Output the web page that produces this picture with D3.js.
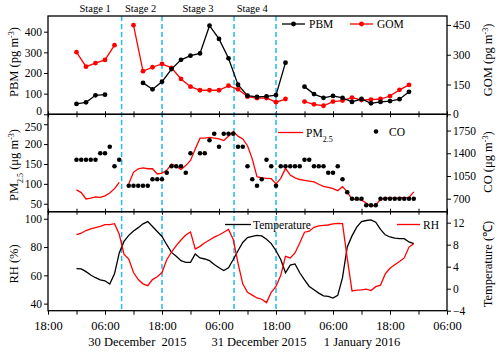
<!DOCTYPE html>
<html><head><meta charset="utf-8">
<script src="https://cdn.jsdelivr.net/npm/d3@7"></script>
<style>
body{margin:0;background:#fff}
svg{display:block}
text{font-family:"Liberation Serif","Times New Roman",serif;fill:#000}
</style>
</head><body><svg id="c" width="500" height="353"></svg>
<script>
// ---------------- data ----------------
const hourlyStart = "2015-12-30T00:00:00Z";   // hourly samples start (PM2.5, CO, RH, T)
const pm25 = [85,78,62,64,67,66,70,77,88,104,null,
  100,129,138,140,138,138,125,127,134,150,144,136,146,159,188,215,215,217,215,213,209,220,232,220,213,196,163,118,115,114,113,100,114,139,122,115,111,109,107,105,99,94,91,88,83,93,80,61,61,59,52,43,47,61,63,66,63,66,65,66,80];
const co = [1300,1300,1300,1300,1300,1400,1400,1500,1200,1300,null,
  900,900,900,900,900,1000,1000,1000,1100,1200,1200,1200,1100,1400,null,1400,1400,1600,1700,1500,1700,1700,1700,1500,1500,1200,1000,900,1000,1300,1200,900,
  1200,1200,1200,1200,1200,1300,1300,1200,1200,1200,1100,1100,1200,1000,800,700,700,700,600,600,600,700,700,700,700,700,700,700,700];
const rh = [88.8,89.8,91.7,92.8,93.8,94.6,95.9,95.9,96.5,89,75,71.5,62,57,54,52.7,57,59,62,71,76.5,81,85,88.5,90.7,78.6,80.5,83,85,87,88.5,90.5,92.5,85.3,68.7,54,48,46,44,43.1,40.7,48,52.1,60,73.4,72.3,75.8,82.9,90.5,91.2,94,95,95.3,95.6,96.4,96.8,96.5,72,49,49.5,49.7,50.2,49.2,52,53,61,65,67.5,69.8,72.3,80,82.4];
const temperature = [3.64,3.6,3.1,2.5,2.0,1.6,1.44,0.85,2.7,6.5,8.6,9.7,10.5,11.1,11.8,12.2,11.3,10.4,9.5,8.0,6.6,5.9,5.1,4.8,4.8,6.3,5.6,5.4,5.1,4.4,3.8,3.3,3.8,5.3,6.9,8.4,9.3,9.5,9.7,9.6,9.0,8.2,6.9,5.3,2.9,4.3,4.5,2.9,1.6,0.4,-0.2,-0.8,-1.3,-1.4,-1.7,-1.2,2.0,7.6,9.6,11.2,12.2,12.4,12.5,12.1,10.8,9.8,9.4,9.2,9.1,9.1,8.5,8.2];
const twoHourlyStart = "2015-12-30T00:00:00Z"; // PBM / GOM every 2 h
const pbm = [50,58,92,95,null,null,null,152,121,158,219,264,284,295,429,365,271,143,90,84,87,93,250,null,134,98,80,89,80,60,74,53,60,64,73,109];
const gom = [313,240,258,274,348,null,449,217,237,254,234,178,139,121,121,121,144,126,89,81,82,61,77,null,64,50,43,64,69,84,72,74,77,92,123,148];
const stageBounds = ["2015-12-30T09:30:00Z","2015-12-30T18:00:00Z","2015-12-31T09:10:00Z","2015-12-31T18:00:00Z"];
const stageNames = ["Stage 1","Stage 2","Stage 3","Stage 4"];
const stageCenters = ["2015-12-30T03:55:00Z","2015-12-30T13:30:00Z","2015-12-31T01:35:00Z","2015-12-31T13:00:00Z"];
const dateLabels = ["30 December  2015","31 December 2015","1 January 2016"];
const dateLabelTimes = ["2015-12-30T12:50:00Z","2015-12-31T14:25:00Z","2016-01-01T12:06:00Z"];
const timeDomain = ["2015-12-29T18:00:00Z","2016-01-02T06:00:00Z"];
const pbmTicks = [0,100,200,300,400], gomTicks = [0,150,300,450];
const pmTicks = [50,100,150,200,250], coTicks = [700,1050,1400,1750];
const rhTicks = [40,60,80,100], tTicks = [-4,0,4,8,12];

// ---------------- layout ----------------
const RED = "#ff0000", BLUE = "#22bbee";
const L = 48, R = 447;
const P1 = [16, 114.3], P2 = [114.3, 211.7], P3 = [211.7, 310.7];
const svg = d3.select("#c");

const x = d3.scaleUtc().domain(timeDomain.map(d => new Date(d))).range([L, R]);
const yPBM = d3.scaleLinear([0, 476], [P1[1], P1[0]]);
const yGOM = d3.scaleLinear([0, 495], [P1[1], P1[0]]);
const yPM = d3.scaleLinear([30, 275], [P2[1], P2[0]]);
const yCO = d3.scaleLinear([500, 2000], [P2[1], P2[0]]);
const yRH = d3.scaleLinear([35, 105], [P3[1], P3[0]]);
const yT = d3.scaleLinear([-4, 14], [P3[1], P3[0]]);

const hStart = new Date(hourlyStart), h2Start = new Date(twoHourlyStart);
const hourly = arr => arr.map((v, i) => ({t: d3.utcHour.offset(hStart, i), v}));
const twoHourly = arr => arr.map((v, i) => ({t: d3.utcHour.offset(h2Start, 2 * i), v}));

const sixHourTicks = d3.utcHour.range(new Date(timeDomain[0]), d3.utcHour.offset(new Date(timeDomain[1]), 1), 6);

// inner x ticks on each panel edge
[P1, P2, P3].forEach((p, i) => {
  if (i > 0) svg.append("g").attr("transform", `translate(0,${p[0]})`)
    .call(d3.axisTop(x).tickValues(sixHourTicks).tickSize(-3).tickFormat(""))
    .call(g => g.select(".domain").remove());
  if (i < 2) svg.append("g").attr("transform", `translate(0,${p[1]})`)
    .call(d3.axisBottom(x).tickValues(sixHourTicks).tickSize(-3).tickFormat(""))
    .call(g => g.select(".domain").remove());
});

// bottom axis
const fmt = d3.utcFormat("%H:%M");
svg.append("g").attr("transform", `translate(0,${P3[1]})`)
  .call(d3.axisBottom(x).tickValues(sixHourTicks).tickSize(4)
    .tickFormat(d => (d.getUTCHours() % 12 === 6) ? fmt(d) : ""))
  .call(g => g.select(".domain").remove())
  .call(g => g.selectAll("text").attr("y", 10).attr("dy", "0.71em").style("font-size", "12.5px"));

svg.selectAll(".dlab").data(dateLabels).join("text")
  .attr("x", (d, i) => x(new Date(dateLabelTimes[i]))).attr("y", 346)
  .attr("text-anchor", "middle").style("font-size", "12.5px").style("white-space", "pre")
  .text(d => d);

// y axes
function yAxis(scale, ticks, side, xpos, nudge) {
  const ax = (side === "left" ? d3.axisLeft(scale) : d3.axisRight(scale))
    .tickValues(ticks).tickSize(4).tickPadding(2).tickFormat(d3.format("d"));
  svg.append("g").attr("transform", `translate(${xpos},0)`).call(ax)
    .call(g => g.select(".domain").remove())
    .call(g => g.selectAll("text").style("font-size", "11.5px")
      .attr("dy", d => (nudge && nudge[d] !== undefined) ? nudge[d] : "0.32em"));
}
yAxis(yPBM, pbmTicks, "left", L, {0: "0.05em"}); yAxis(yGOM, gomTicks, "right", R);
yAxis(yPM, pmTicks, "left", L, {250: "0.55em"}); yAxis(yCO, coTicks, "right", R);
yAxis(yRH, rhTicks, "left", L); yAxis(yT, tTicks, "right", R);

// axis titles
function vtitle(xp, yp, parts) {
  const t = svg.append("text").attr("transform", `translate(${xp},${yp}) rotate(-90)`)
    .attr("text-anchor", "middle").style("font-size", "12.5px");
  parts.forEach(p => {
    const s = t.append("tspan").text(p[0]);
    if (p[1] === "sup") s.attr("baseline-shift", "super").style("font-size", "8px");
    if (p[1] === "sub") s.attr("baseline-shift", "sub").style("font-size", "8px");
  });
}
vtitle(18, 62, [["PBM (pg m"], ["-3", "sup"], [")"]]);
vtitle(18, 165, [["PM"], ["2.5", "sub"], [" (μg m"], ["-3", "sup"], [")"]]);
vtitle(18, 264, [["RH (%)"]]);
vtitle(492, 60, [["GOM (pg m"], ["-3", "sup"], [")"]]);
vtitle(492, 162, [["CO (μg m"], ["-3", "sup"], [")"]]);
vtitle(492, 264, [["Temperature (℃)"]]);

// stage dashed lines
svg.selectAll(".stage").data(stageBounds).join("line")
  .attr("x1", d => x(new Date(d))).attr("x2", d => x(new Date(d)))
  .attr("y1", P1[0]).attr("y2", P3[1])
  .attr("stroke", BLUE).attr("stroke-width", 1.5).attr("stroke-dasharray", "5,3");
svg.selectAll(".stxt").data(stageNames).join("text")
  .attr("x", (d, i) => x(new Date(stageCenters[i]))).attr("y", 11.5)
  .attr("text-anchor", "middle").style("font-size", "10.5px").text(d => d);

// series
function drawLine(data, ys, color, w) {
  svg.append("path").datum(data)
    .attr("d", d3.line().defined(d => d.v != null).x(d => x(d.t)).y(d => ys(d.v)))
    .attr("fill", "none").attr("stroke", color).attr("stroke-width", w);
}
function drawDots(data, ys, color, r) {
  svg.append("g").selectAll("circle").data(data.filter(d => d.v != null)).join("circle")
    .attr("cx", d => x(d.t)).attr("cy", d => ys(d.v)).attr("r", r).attr("fill", color);
}
const pbmD = twoHourly(pbm), gomD = twoHourly(gom);
drawLine(gomD, yGOM, RED, 1.3); drawDots(gomD, yGOM, RED, 2.4);
drawLine(pbmD, yPBM, "#000", 1.3); drawDots(pbmD, yPBM, "#000", 2.4);

drawLine(hourly(pm25), yPM, RED, 1.3);
drawDots(hourly(co), yCO, "#000", 2.3);

drawLine(hourly(temperature), yT, "#000", 1.3);
drawLine(hourly(rh), yRH, RED, 1.3);

// panel borders
[P1, P2, P3].forEach(p => svg.append("rect").attr("x", L).attr("y", p[0]).attr("width", R - L).attr("height", p[1] - p[0])
  .attr("fill", "none").attr("stroke", "#000").attr("stroke-width", 1.3));

// legends
function legLine(x1, x2, y, color, dot, label, lx, sub) {
  svg.append("line").attr("x1", x1).attr("x2", x2).attr("y1", y).attr("y2", y).attr("stroke", color).attr("stroke-width", 1.3);
  if (dot) svg.append("circle").attr("cx", (x1 + x2) / 2).attr("cy", y).attr("r", 2.4).attr("fill", color);
  const t = svg.append("text").attr("x", lx).attr("y", y + 4).style("font-size", "11.5px");
  t.append("tspan").text(label);
  if (sub) t.append("tspan").text(sub).attr("baseline-shift", "sub").style("font-size", "8px");
}
legLine(282, 305, 24, "#000", true, "PBM", 309);
legLine(350, 373, 24, RED, true, "GOM", 377);
legLine(278, 303, 132.5, RED, false, "PM", 306, "2.5");
svg.append("circle").attr("cx", 376).attr("cy", 131.5).attr("r", 2.3).attr("fill", "#000");
svg.append("text").attr("x", 389).attr("y", 136).style("font-size", "11.5px").text("CO");
legLine(225, 251, 224.5, "#000", false, "Temperature", 253);
legLine(397, 420, 224.5, RED, false, "RH", 423);
</script></body></html>
